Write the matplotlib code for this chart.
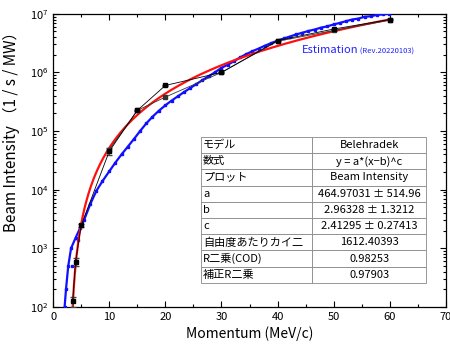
import numpy as np
import matplotlib
matplotlib.use("Agg")
import matplotlib.pyplot as plt
from matplotlib.ticker import LogLocator, MultipleLocator

plt.rcParams["font.family"] = ["Noto Sans CJK JP", "DejaVu Sans"]
plt.rcParams["mathtext.fontset"] = "dejavusans"

# measured beam intensity (two overlapping runs)
meas_x = [3.5, 4, 5, 10, 15, 20, 30, 40, 50, 60]
meas_y = [125, 590, 2450, 45000, 225000, 600000, 1.0e6, 3.5e6, 5.5e6, 8.0e6]
meas_err = [25, 85, 150, 6000, 8000, 20000, 30000, 80000, 100000, 150000]
meas2_x = [10, 15, 20, 30, 40, 50, 60]
meas2_y = [48000, 225000, 380000, 1.0e6, 3.4e6, 5.2e6, 7.8e6]

# estimation (Rev.20220103)
est_x = [2.05, 2.3, 2.7, 3.2, 4.0, 4.8, 5.5, 6.6, 7.7, 8.8, 10.0, 11.1, 12.2, 13.3,
         14.4, 15.5, 16.6, 17.7, 18.8, 20.0, 21.1, 22.2, 23.3, 24.4, 25.5, 26.6,
         27.7, 28.8, 30.0, 31.1, 32.2, 33.3, 34.4, 35.5, 36.6, 37.7, 38.8, 40.0,
         41.1, 42.2, 43.3, 44.4, 45.5, 46.6, 47.7, 48.8, 50.0, 51.1, 52.2, 53.3,
         54.4, 55.5, 56.6, 57.7, 58.8, 59.8]
est_y = [100, 200, 500, 1000, 1500, 2200, 3000, 5600, 9500, 1.4e4, 2.05e4, 2.9e4,
         4.0e4, 5.4e4, 7.3e4, 1.0e5, 1.35e5, 1.75e5, 2.2e5, 2.75e5, 3.3e5, 3.9e5,
         4.6e5, 5.4e5, 6.3e5, 7.4e5, 8.6e5, 1.0e6, 1.2e6, 1.35e6, 1.55e6, 1.8e6,
         2.05e6, 2.3e6, 2.55e6, 2.85e6, 3.15e6, 3.5e6, 3.8e6, 4.1e6, 4.45e6,
         4.75e6, 5.1e6, 5.4e6, 5.8e6, 6.1e6, 6.6e6, 7.0e6, 7.5e6, 8.0e6, 8.3e6,
         8.9e6, 9.1e6, 9.6e6, 9.8e6, 1.0e7]
est_dot_x = [3.4, 4.4]
est_dot_y = [490, 1370]

# Belehradek fit y = a*(x-b)^c
fit_a, fit_b, fit_c = 464.97031, 2.96328, 2.41295
table_rows = [
    ["モデル", "Belehradek"],
    ["数式", "y = a*(x−b)^c"],
    ["プロット", "Beam Intensity"],
    ["a", "464.97031 ± 514.96"],
    ["b", "2.96328 ± 1.3212"],
    ["c", "2.41295 ± 0.27413"],
    ["自由度あたりカイ二", "1612.40393"],
    ["R二乗(COD)", "0.98253"],
    ["補正R二乗", "0.97903"],
]

fig = plt.figure(figsize=(4.5, 3.46), dpi=100)
ax = fig.add_axes([0.118, 0.113, 0.873, 0.847])

ax.plot(est_x, est_y, color="#1010ff", lw=1.6, marker="s", ms=1.6, zorder=3)
ax.plot(est_dot_x, est_dot_y, ls="none", color="#1010ff", marker="s", ms=1.8, zorder=3)

fx = np.linspace(fit_b + 0.5, 60, 400)
ax.plot(fx, fit_a * (fx - fit_b) ** fit_c, color="#ff1010", lw=1.6, zorder=4)

ax.plot(meas2_x, meas2_y, color="#333333", lw=0.6, marker="s", ms=2.6, zorder=5)
ax.errorbar(meas_x, meas_y, yerr=meas_err, color="black", ecolor="#444444", lw=0.6,
            marker="s", ms=2.6, capsize=2, elinewidth=0.6, zorder=5)

ax.set_yscale("log")
ax.set_xlim(0, 70)
ax.set_ylim(1e2, 1e7)
ax.xaxis.set_major_locator(MultipleLocator(10))
ax.xaxis.set_minor_locator(MultipleLocator(5))
ax.yaxis.set_major_locator(LogLocator(base=10, numticks=10))
ax.yaxis.set_minor_locator(LogLocator(base=10, subs=np.arange(2, 10), numticks=10))
ax.tick_params(which="both", direction="in", top=True, right=True, labelsize=8, width=0.8)
ax.tick_params(which="major", length=4)
ax.tick_params(which="minor", length=2)
for s in ax.spines.values():
    s.set_linewidth(0.9)

ax.set_xlabel("Momentum (MeV/c)", fontsize=10, labelpad=3)
ax.set_ylabel("Beam Intensity （1 / s / MW）", fontsize=11)
ax.yaxis.set_label_coords(-0.085, 0.61)

t = ax.text(0.632, 0.865, "Estimation", transform=ax.transAxes, color="#2020ff",
            fontsize=8, va="baseline")
ax.annotate(" (Rev.20220103)", xy=(1, 0), xycoords=t, color="#2020ff", fontsize=5.5,
            va="bottom", ha="left")

# table sits inside the axes, left column text left-aligned
w0 = (313 - 201) / 394
w1 = (427 - 313) / 394
tab = ax.table(cellText=table_rows, cellLoc="center",
               bbox=[0.376, 0.082, w0 + w1, 0.498], zorder=6)
tab.auto_set_font_size(False)
for (r, c), cell in tab.get_celld().items():
    cell.set_edgecolor("#888888")
    cell.set_linewidth(0.6)
    cell.set_facecolor("white")
    cell.get_text().set_fontsize(8)
    cell.set_width(w0 if c == 0 else w1)
    if c == 0:
        cell.get_text().set_ha("left")
        cell.PAD = 0.02

fig.savefig("out.png", dpi=100)
